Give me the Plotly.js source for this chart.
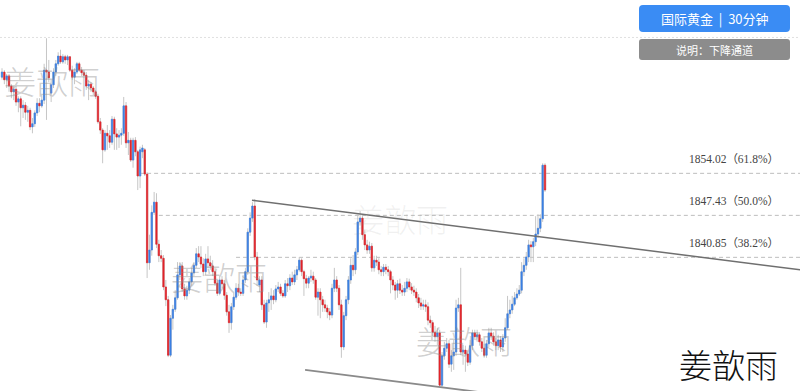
<!DOCTYPE html>
<html><head><meta charset="utf-8">
<script src="https://cdn.plot.ly/plotly-3.0.1.min.js"></script>
<style>html,body{margin:0;padding:0;background:#fff}#chart{width:800px;height:391px}</style>
</head><body><div id="chart"></div>
<script>
const open=[1869.1,1869.9,1868.7,1869.3,1867.7,1866.8,1867.2,1865.2,1865.7,1864.3,
1864.7,1863.6,1863.9,1861.3,1861.8,1863.5,1865.0,1864.6,1865.5,1870.2,
1869.9,1866.6,1867.9,1869.9,1871.2,1872.4,1871.5,1872.3,1871.8,1872.3,
1870.2,1869.1,1869.9,1871.2,1870.2,1869.8,1869.4,1867.7,1868.0,1867.4,
1866.8,1866.1,1862.1,1860.8,1857.7,1860.3,1859.9,1858.9,1862.5,1860.2,
1859.7,1860.0,1860.3,1864.6,1858.8,1859.2,1856.1,1859.2,1857.4,1853.6,
1857.4,1857.7,1853.9,1840.0,1842.0,1847.9,1849.5,1842.9,1841.1,1840.7,
1836.2,1834.2,1825.5,1831.3,1832.7,1834.5,1838.1,1839.5,1835.9,1834.8,
1835.7,1837.0,1838.4,1839.6,1841.4,1840.9,1839.8,1838.6,1840.6,1840.0,
1839.5,1838.6,1836.8,1835.2,1837.3,1836.7,1834.9,1832.3,1830.6,1833.1,
1834.6,1836.0,1835.4,1835.2,1837.3,1838.6,1844.8,1847.0,1848.9,1840.9,
1836.5,1837.3,1833.4,1830.7,1833.7,1834.2,1834.8,1834.2,1835.9,1836.2,
1835.2,1834.8,1836.7,1836.4,1837.6,1837.0,1838.1,1838.9,1840.4,1838.6,
1837.5,1836.8,1837.6,1837.9,1837.3,1834.6,1835.4,1834.2,1833.4,1832.9,
1832.3,1831.8,1836.0,1837.3,1836.0,1833.4,1826.8,1831.7,1834.2,1837.3,
1839.6,1838.9,1841.7,1846.4,1847.0,1844.4,1842.8,1842.0,1842.6,1839.2,
1840.4,1840.1,1838.9,1838.6,1839.3,1838.9,1838.6,1837.3,1836.5,1835.7,
1836.7,1835.7,1835.4,1836.0,1837.0,1836.2,1835.7,1835.4,1834.5,1833.7,
1833.2,1833.4,1833.1,1831.0,1830.6,1829.1,1828.4,1829.0,1820.8,1825.4,
1826.6,1827.3,1824.1,1825.4,1826.0,1832.9,1833.4,1826.0,1826.3,1825.7,
1824.4,1827.0,1829.0,1828.4,1828.7,1827.6,1826.6,1825.5,1827.3,1829.0,
1828.5,1827.6,1827.0,1827.9,1826.8,1828.2,1829.8,1832.0,1832.6,1833.5,
1834.5,1835.1,1835.7,1838.6,1839.6,1840.9,1842.8,1842.5,1843.3,1844.5,
1845.4,1846.9,1855.3];
const close=[1869.9,1868.7,1869.3,1867.7,1866.8,1867.2,1865.2,1865.7,1864.3,1864.7,
1863.6,1863.9,1861.3,1861.8,1863.5,1865.0,1864.6,1865.5,1870.2,1869.9,
1869.0,1867.9,1869.9,1871.2,1872.4,1871.5,1872.3,1871.8,1872.3,1870.2,
1869.1,1869.9,1871.2,1870.2,1869.8,1869.4,1867.7,1868.0,1867.4,1866.8,
1866.1,1862.1,1860.8,1857.7,1860.3,1859.9,1858.9,1862.5,1860.2,1859.7,
1860.0,1860.3,1864.6,1858.8,1859.2,1856.1,1859.2,1857.4,1853.6,1857.7,
1858.0,1853.9,1840.0,1842.0,1847.9,1849.5,1842.9,1841.1,1840.7,1836.2,
1834.2,1825.5,1831.3,1832.7,1834.5,1838.1,1839.5,1835.9,1834.8,1835.7,
1837.0,1838.4,1839.6,1841.4,1840.9,1839.8,1838.6,1840.6,1840.0,1839.5,
1838.6,1836.8,1835.2,1837.3,1836.7,1834.9,1832.3,1830.6,1833.1,1834.6,
1836.0,1835.4,1835.2,1837.3,1838.6,1844.8,1847.0,1848.9,1840.9,1837.3,
1837.3,1833.4,1830.7,1833.7,1834.2,1834.8,1834.2,1835.9,1836.2,1835.2,
1834.8,1836.7,1836.4,1837.6,1837.0,1838.1,1838.9,1840.4,1838.6,1837.5,
1836.8,1837.6,1837.9,1837.3,1834.6,1835.4,1834.2,1833.4,1832.9,1832.3,
1831.8,1836.0,1837.3,1836.0,1833.4,1826.8,1831.7,1834.2,1837.3,1839.6,
1838.9,1841.7,1846.4,1847.0,1844.4,1842.8,1842.0,1842.6,1839.2,1840.4,
1840.1,1838.9,1838.6,1839.3,1838.9,1838.6,1837.3,1836.5,1835.7,1836.7,
1835.7,1835.4,1836.0,1837.0,1836.2,1835.7,1835.4,1834.5,1833.7,1833.2,
1833.4,1833.1,1831.0,1830.6,1829.1,1828.4,1829.0,1820.8,1825.4,1826.6,
1827.3,1824.1,1825.4,1826.0,1832.9,1833.4,1826.0,1826.3,1825.7,1824.4,
1827.0,1829.0,1828.4,1828.7,1827.6,1826.6,1825.5,1827.3,1829.0,1828.5,
1827.6,1827.0,1827.9,1826.8,1828.2,1829.8,1832.0,1832.6,1833.5,1834.5,
1835.1,1835.7,1838.6,1839.6,1840.9,1842.8,1842.5,1843.3,1844.5,1845.4,
1846.9,1855.3,1851.4];
const high=[1870.5,1870.2,1869.6,1869.6,1868.0,1867.7,1867.7,1866.1,1866.1,1865.5,
1865.2,1864.6,1864.3,1862.7,1863.9,1865.8,1865.8,1866.3,1871.2,1875.2,
1871.8,1868.7,1870.5,1871.8,1873.0,1873.4,1872.7,1872.6,1872.6,1872.4,
1870.9,1870.5,1871.5,1871.5,1870.7,1870.2,1869.9,1868.7,1868.3,1867.7,
1867.1,1866.5,1862.7,1861.1,1860.8,1861.6,1860.8,1863.0,1862.9,1861.1,
1860.8,1861.1,1866.0,1865.2,1860.5,1859.6,1859.6,1859.7,1857.7,1858.2,
1858.5,1858.0,1854.2,1844.4,1849.0,1851.1,1850.9,1843.6,1842.0,1841.2,
1837.3,1834.8,1831.8,1833.4,1835.7,1840.1,1840.1,1840.1,1836.7,1836.4,
1837.6,1839.2,1840.1,1842.3,1842.6,1842.6,1840.7,1841.4,1842.6,1841.1,
1840.4,1839.2,1837.3,1837.9,1837.9,1837.3,1835.4,1833.4,1833.7,1835.4,
1836.8,1836.7,1836.0,1838.1,1839.2,1845.4,1847.9,1849.5,1850.0,1841.7,
1837.9,1837.9,1834.2,1834.2,1835.4,1836.0,1835.7,1836.5,1837.0,1836.7,
1835.7,1837.3,1837.6,1838.2,1838.6,1838.9,1839.5,1840.9,1840.7,1838.9,
1838.1,1837.9,1838.9,1838.6,1837.6,1836.0,1836.0,1834.8,1834.2,1833.4,
1832.9,1836.7,1839.2,1837.9,1836.5,1834.2,1832.3,1834.8,1837.9,1840.7,
1841.2,1842.3,1847.5,1848.1,1847.6,1845.1,1843.6,1843.3,1843.1,1841.1,
1841.1,1840.7,1839.5,1839.8,1839.8,1839.5,1838.9,1837.9,1837.0,1837.3,
1837.5,1836.5,1837.0,1837.6,1837.5,1836.8,1836.4,1836.0,1835.1,1834.5,
1834.2,1834.2,1833.8,1831.7,1831.0,1830.1,1829.8,1829.5,1826.0,1827.6,
1828.2,1827.9,1826.3,1827.9,1834.2,1834.5,1839.2,1827.1,1827.0,1826.3,
1827.9,1829.5,1829.5,1829.5,1829.1,1828.2,1827.3,1827.9,1829.8,1829.8,
1829.1,1828.2,1828.7,1828.5,1828.8,1831.3,1834.8,1834.2,1834.8,1835.4,
1836.0,1836.5,1840.1,1840.7,1841.7,1843.6,1843.4,1843.9,1847.3,1847.6,
1847.6,1855.6,1855.6];
const low=[1868.7,1868.0,1867.4,1866.8,1865.8,1865.5,1864.6,1863.6,1861.4,1862.7,
1862.4,1862.1,1860.8,1860.3,1861.3,1863.0,1863.6,1864.3,1864.9,1862.4,
1868.3,1865.2,1867.4,1869.3,1870.9,1871.2,1871.2,1871.2,1871.0,1869.9,
1868.7,1868.0,1869.6,1869.9,1869.3,1869.0,1867.1,1865.5,1866.8,1866.3,
1865.7,1861.8,1860.2,1855.6,1857.4,1857.7,1858.0,1858.5,1857.7,1857.7,
1858.0,1858.5,1859.9,1858.0,1856.9,1855.8,1854.9,1856.7,1851.4,1851.7,
1856.4,1853.6,1837.6,1838.9,1841.1,1847.5,1842.3,1840.1,1840.1,1835.7,
1833.2,1825.2,1825.2,1829.5,1832.3,1834.2,1837.3,1835.4,1834.2,1834.2,
1835.1,1836.4,1837.9,1839.2,1840.1,1839.2,1837.9,1838.1,1839.2,1838.9,
1837.9,1836.4,1834.8,1834.9,1836.0,1834.2,1831.7,1829.0,1829.5,1832.6,
1834.2,1834.8,1834.8,1834.8,1836.8,1838.1,1844.2,1846.4,1840.4,1836.4,
1835.4,1832.6,1830.4,1829.8,1832.3,1832.6,1833.5,1833.8,1835.4,1834.8,
1834.5,1834.5,1835.4,1835.7,1836.5,1836.5,1837.3,1838.6,1837.9,1834.8,
1836.0,1836.0,1837.0,1836.7,1834.2,1831.7,1831.3,1832.3,1832.3,1831.3,
1831.0,1831.3,1835.4,1835.4,1832.6,1825.1,1826.3,1831.0,1833.5,1836.7,
1837.9,1838.2,1841.2,1845.8,1843.6,1842.0,1841.4,1841.4,1838.6,1838.6,
1839.5,1838.2,1837.9,1837.9,1838.2,1837.9,1835.2,1835.7,1834.2,1834.5,
1835.1,1834.8,1834.8,1835.4,1835.7,1835.1,1834.8,1833.8,1832.9,1832.6,
1832.6,1832.3,1830.2,1829.8,1828.5,1827.6,1827.1,1820.5,1820.4,1824.8,
1826.0,1823.5,1822.9,1823.2,1825.4,1832.3,1825.5,1824.0,1822.9,1823.8,
1824.0,1826.3,1827.9,1827.6,1827.0,1826.0,1825.1,1825.1,1826.8,1827.9,
1827.0,1826.3,1826.3,1826.0,1826.0,1827.6,1829.5,1831.3,1832.0,1833.2,
1834.2,1834.8,1835.2,1837.9,1838.9,1840.1,1840.1,1840.1,1842.6,1843.9,
1844.8,1846.4,1851.1];

const fibPrices=[1854.02,1847.43,1840.85];
const fibPcts=['61.8%','50.0%','38.2%'];
const fibStart=[59,67,100];
const highLevel=1875.33;
const channelUpperX=[106.8,341], channelUpperY=[1849.8,1838.9];
const channelLowerX=[129.5,215], channelLowerY=[1823.2,1819.2];
const titleText='国际黄金 &nbsp;|&nbsp; 30分钟';
const noteText='说明：下降通道';
const markText='姜歆雨';

const idx=open.map((_,i)=>i);
const XR=[-0.855,340.95], YR=[1819.89,1881.2];
const W=800,H=391;
const PX=p=>p/W, PY=p=>1-p/H;
function rr(x0,y0,x1,y1,r){
  return `M${PX(x0+r)},${PY(y0)} L${PX(x1-r)},${PY(y0)} Q${PX(x1)},${PY(y0)} ${PX(x1)},${PY(y0+r)} `+
  `L${PX(x1)},${PY(y1-r)} Q${PX(x1)},${PY(y1)} ${PX(x1-r)},${PY(y1)} L${PX(x0+r)},${PY(y1)} `+
  `Q${PX(x0)},${PY(y1)} ${PX(x0)},${PY(y1-r)} L${PX(x0)},${PY(y0+r)} Q${PX(x0)},${PY(y0)} ${PX(x0+r)},${PY(y0)} Z`;
}
const wickC='#c6c6c6', upC='#3b80e4', dnC='#e3232a';
const traces=[
 {type:'candlestick',x:idx,open:open,high:high,low:low,close:close,
  increasing:{line:{color:wickC,width:1},fillcolor:wickC},
  decreasing:{line:{color:wickC,width:1},fillcolor:wickC},
  whiskerwidth:0,hoverinfo:'skip',showlegend:false},
 {type:'candlestick',x:idx,open:open,close:close,
  high:open.map((o,i)=>Math.max(o,close[i])),low:open.map((o,i)=>Math.min(o,close[i])),
  increasing:{line:{color:upC,width:0.6},fillcolor:upC},
  decreasing:{line:{color:dnC,width:0.6},fillcolor:dnC},
  whiskerwidth:0,hoverinfo:'skip',showlegend:false},
 {type:'scatter',mode:'lines',x:channelUpperX,y:channelUpperY,line:{color:'#6f6f6f',width:1.5},hoverinfo:'skip',showlegend:false},
 {type:'scatter',mode:'lines',x:channelLowerX,y:channelLowerY,line:{color:'#8a8a8a',width:1.8},hoverinfo:'skip',showlegend:false}
];
const shapes=[
 {type:'line',xref:'x',yref:'y',x0:XR[0],x1:XR[1],y0:highLevel,y1:highLevel,layer:'below',line:{color:'#e0e0e0',width:1,dash:'2px,2px'}}
];
fibPrices.forEach((p,i)=>shapes.push({type:'line',xref:'x',yref:'y',x0:fibStart[i],x1:XR[1],y0:p,y1:p,layer:'below',line:{color:'#bdbdbd',width:1,dash:'4px,3px'}}));
shapes.push({type:'path',xref:'paper',yref:'paper',path:rr(639,5,790,32,4),fillcolor:'#3a8cf4',line:{width:0},layer:'above'});
shapes.push({type:'path',xref:'paper',yref:'paper',path:rr(639,39,790,60,3),fillcolor:'#8c8c8c',line:{width:0},layer:'above'});

const cjk="'Noto Sans CJK SC', sans-serif";
const annotations=[];
fibPrices.forEach((p,i)=>annotations.push({xref:'paper',yref:'y',x:PX(781),y:p,yshift:14,xanchor:'right',yanchor:'middle',
  showarrow:false,text:p.toFixed(2)+'（'+fibPcts[i]+'）',font:{family:"'Liberation Serif', 'Noto Sans CJK SC', serif",size:11.5,color:'#444'}}));
annotations.push({xref:'paper',yref:'paper',x:PX(714.5),y:PY(18.5),xanchor:'center',yanchor:'middle',showarrow:false,
  text:titleText,font:{family:cjk,size:13,color:'#ffffff'}});
annotations.push({xref:'paper',yref:'paper',x:PX(714.5),y:PY(49.5),xanchor:'center',yanchor:'middle',showarrow:false,
  text:noteText,font:{family:cjk,size:11,color:'#ffffff'}});
const marks=[[52,80,0.42],[219,276,0.42],[400,218,0.12],[464,340,0.42]];
marks.forEach(m=>annotations.push({xref:'paper',yref:'paper',x:PX(m[0]),y:PY(m[1]),xanchor:'center',yanchor:'middle',showarrow:false,
  text:markText,font:{family:cjk,size:32,color:`rgba(140,140,140,${m[2]})`,weight:300}}));
annotations.push({xref:'paper',yref:'paper',x:PX(728),y:PY(364),xanchor:'center',yanchor:'middle',showarrow:false,
  text:markText,font:{family:cjk,size:33,color:'#111111',weight:300}});

const ax={showgrid:false,zeroline:false,showticklabels:false,ticks:'',showline:false,fixedrange:true};
const layout={
  width:W,height:H,margin:{l:0,r:0,t:0,b:0,pad:0},
  paper_bgcolor:'#ffffff',plot_bgcolor:'#ffffff',showlegend:false,boxgap:0.2,
  xaxis:Object.assign({},ax,{range:XR,autorange:false,rangeslider:{visible:false}}),
  yaxis:Object.assign({},ax,{range:YR,autorange:false}),
  shapes:shapes,annotations:annotations
};
Plotly.newPlot('chart',traces,layout,{staticPlot:true,displayModeBar:false});
</script></body></html>
